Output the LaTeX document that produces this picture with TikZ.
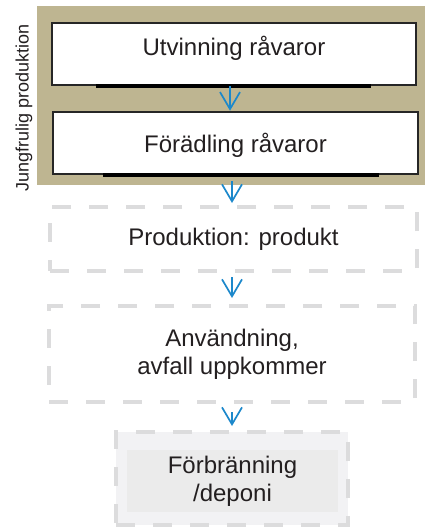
\documentclass[tikz,border=0pt]{standalone}
\usepackage{fontspec}
\setmainfont{Liberation Sans}
\usetikzlibrary{arrows.meta}
\definecolor{bandtan}{HTML}{BEB591}
\definecolor{inktext}{HTML}{231F20}
\definecolor{dashgray}{HTML}{DCDCDD}
\definecolor{outerfill}{HTML}{F2F2F4}
\definecolor{innerfill}{HTML}{EBEBEB}
\definecolor{flowblue}{HTML}{1C88CB}
\tikzset{
  boxtext/.style={font=\fontsize{24}{28}\selectfont, text=inktext, align=center},
  solidbox/.style={boxtext, draw=black!85, line width=2.5pt, fill=white, inner sep=0pt},
  dashbox/.style={boxtext, draw=dashgray, line width=4pt, dash pattern=on 19pt off 18pt, inner sep=0pt},
  boxbottom/.style={draw=black, line width=4pt},
  flow/.style={draw=flowblue, line width=1.7pt, -{Straight Barb[length=17pt,width=20pt,line width=1.7pt]}},
}
\begin{document}
\begin{tikzpicture}[x=1pt,y=-1pt]
\useasboundingbox (0,0) rectangle (425,527);

% tan band behind the virgin production steps
\fill[bandtan] (37,6) rectangle (425,185);
\node[rotate=90, font=\fontsize{18}{20}\selectfont, text=inktext] (band) at (24,108) {Jungfrulig produktion};

% solid steps
\node[solidbox, minimum width=364pt, minimum height=62pt, text height=17pt, text depth=13pt] (b1) at (234,54) {Utvinning råvaror};
\node[solidbox, minimum width=365pt, minimum height=62pt, text height=21pt, text depth=3pt] (b2) at (235.5,143) {Förädling råvaror};
\draw[boxbottom] ([xshift=45pt]b1.south west) -- ([xshift=-46pt]b1.south east);
\draw[boxbottom] ([xshift=51pt]b2.south west) -- ([xshift=-40pt]b2.south east);

% dashed steps
\node[dashbox, minimum width=367pt, minimum height=64pt, text height=17pt, text depth=5pt] (b3) at (233.5,239) {Produktion: produkt};
\node[dashbox, minimum width=366pt, minimum height=96pt] (b4) at (232,354) {Användning,\\avfall uppkommer};
\node[dashbox, fill=outerfill, minimum width=232pt, minimum height=93pt] (b5) at (232,478.5) {};
\node[boxtext, fill=innerfill, minimum width=211pt, minimum height=62pt, inner sep=0pt] (t5) at ([shift={(0.5pt,-2.5pt)}]b5.center) {Förbränning\\/deponi};

% flow arrows
\draw[flow] ([xshift=-4pt]b1.south) -- ([xshift=-4pt]b1.south |- b2.north);
\draw[flow, shorten <=6pt, shorten >=2pt] ([xshift=-3.5pt]b2.south) -- ([xshift=-3.5pt]b2.south |- b3.north);
\draw[flow, shorten <=4pt, shorten >=6pt] ([xshift=-1.5pt]b3.south) -- ([xshift=-1.5pt]b3.south |- b4.north);
\draw[flow, shorten <=8pt, shorten >=4pt] (b4.south) -- (b5.north);
\end{tikzpicture}
\end{document}
